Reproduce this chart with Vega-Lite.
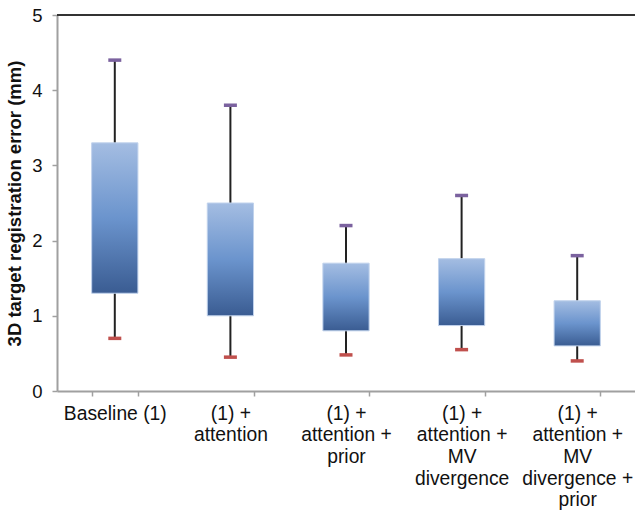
{
  "$schema": "https://vega.github.io/schema/vega-lite/v6.json",
  "width": 578,
  "height": 376,
  "autosize": {"type": "none"},
  "padding": {"left": 57, "top": 15, "right": 0, "bottom": 122},
  "background": "white",
  "config": {"view": {"stroke": null}, "font": "Liberation Sans"},
  "data": {
    "values": [
      {"cat": "Baseline (1)", "low": 0.7, "q1": 1.3, "q3": 3.3, "high": 4.4},
      {"cat": "(1) +|attention", "low": 0.45, "q1": 1.0, "q3": 2.5, "high": 3.8},
      {"cat": "(1) +|attention +|prior", "low": 0.48, "q1": 0.8, "q3": 1.7, "high": 2.2},
      {"cat": "(1) +|attention +|MV|divergence", "low": 0.55, "q1": 0.87, "q3": 1.76, "high": 2.6},
      {"cat": "(1) +|attention +|MV|divergence +|prior", "low": 0.4, "q1": 0.6, "q3": 1.2, "high": 1.8}
    ]
  },
  "encoding": {
    "x": {
      "field": "cat",
      "type": "nominal",
      "sort": null,
      "scale": {"paddingInner": 0.6, "paddingOuter": 0.3},
      "axis": {
        "title": null,
        "labelAngle": 0,
        "labelExpr": "split(datum.label, '|')",
        "labelFontSize": 19.3,
        "labelLineHeight": 21.7,
        "labelColor": "#111",
        "labelPadding": 8,
        "labelBaseline": "top",
        "tickBand": "extent",
        "domainColor": "#a0a0a0",
        "domainWidth": 2,
        "tickColor": "#a0a0a0",
        "tickWidth": 1.5,
        "tickSize": 5
      }
    }
  },
  "layer": [
    {
      "mark": {"type": "rule", "color": "#222", "strokeWidth": 2},
      "encoding": {
        "y": {
          "field": "low",
          "type": "quantitative",
          "scale": {"domain": [0, 5], "nice": false},
          "axis": {
            "title": "3D target registration error (mm)",
            "titleFontSize": 18.5,
            "titleFontWeight": "bold",
            "titleColor": "#111",
            "titlePadding": 7,
            "values": [0, 1, 2, 3, 4, 5],
            "format": "d",
            "grid": false,
            "labelFontSize": 18.5,
            "labelColor": "#111",
            "labelPadding": 10,
            "domainColor": "#a0a0a0",
            "domainWidth": 2,
            "tickColor": "#a0a0a0",
            "tickWidth": 1.5,
            "tickSize": 5
          }
        },
        "y2": {"field": "high"}
      }
    },
    {
      "mark": {
        "type": "bar",
        "stroke": "#c0d2ec",
        "strokeWidth": 1,
        "color": {
          "gradient": "linear",
          "x1": 0, "y1": 0, "x2": 0, "y2": 1,
          "stops": [
            {"offset": 0, "color": "#a4bde2"},
            {"offset": 0.5, "color": "#6b94cd"},
            {"offset": 1, "color": "#3a5c92"}
          ]
        }
      },
      "encoding": {
        "y": {"field": "q1", "type": "quantitative"},
        "y2": {"field": "q3"}
      }
    },
    {
      "mark": {"type": "tick", "color": "#7b629f", "thickness": 3.5, "size": 13, "opacity": 1},
      "encoding": {"y": {"field": "high", "type": "quantitative"}}
    },
    {
      "mark": {"type": "tick", "color": "#c0504d", "thickness": 3.5, "size": 13, "opacity": 1},
      "encoding": {"y": {"field": "low", "type": "quantitative"}}
    },
    {
      "data": {"values": [{"v": 5}]},
      "mark": {"type": "rule", "color": "#333", "strokeWidth": 2},
      "encoding": {"y": {"field": "v", "type": "quantitative"}, "x": {"value": 0}, "x2": {"value": 578}}
    }
  ]
}
